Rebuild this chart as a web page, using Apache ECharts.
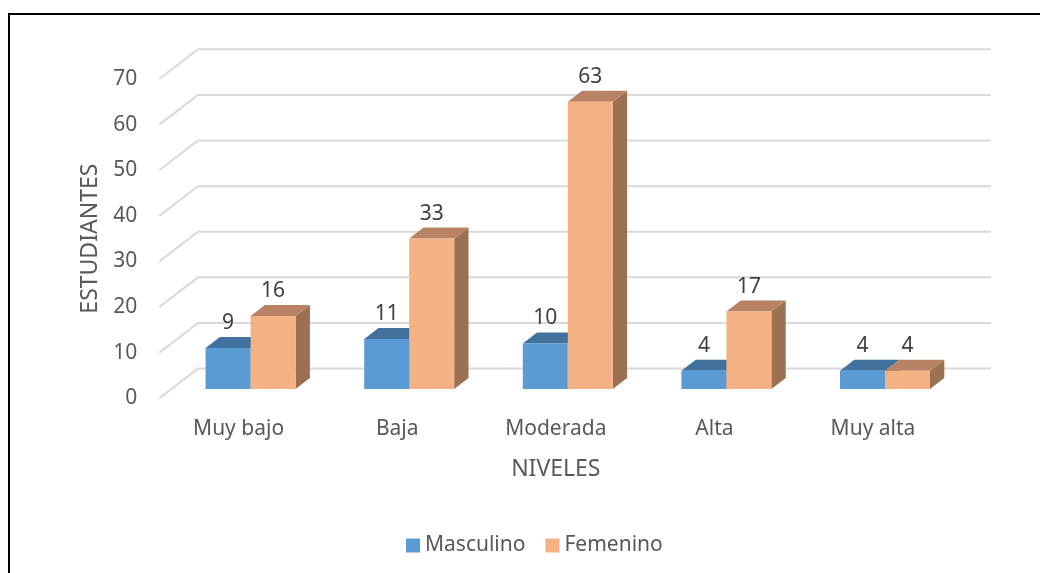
<!DOCTYPE html>
<html>
<head>
<meta charset="utf-8">
<script src="https://cdn.jsdelivr.net/npm/echarts@6/dist/echarts.min.js"></script>
<style>
html, body { margin: 0; padding: 0; background: #fff; }
#chart { width: 1040px; height: 573px; }
</style>
</head>
<body>
<div id="chart"></div>
<script>
var categories = ['Muy bajo', 'Baja', 'Moderada', 'Alta', 'Muy alta'];
var masculino = [9, 11, 10, 4, 4];
var femenino = [16, 33, 63, 17, 4];
var ticks = [0, 10, 20, 30, 40, 50, 60, 70];

// depth of the fake 3d box: front plane -> back wall
var WALL_DX = 38.7, WALL_DY = 29.7;
var BAR_F = 0.31;   // bar front face position (fraction of depth)
var BAR_D = 0.37;   // bar depth (fraction of depth)
var BAR_W = 45;
var FONT = '"Noto Sans", "Open Sans", sans-serif';

var chart = echarts.init(document.getElementById('chart'));

function gridRender(params, api) {
  var cs = params.coordSys;
  var y = api.coord([0, api.value(1)])[1];
  return {
    type: 'polyline',
    silent: true,
    shape: { points: [[cs.x, y], [cs.x + WALL_DX, y - WALL_DY], [cs.x + cs.width + WALL_DX, y - WALL_DY]] },
    style: { stroke: '#d9d9d9', lineWidth: 2, fill: null }
  };
}

function barRender(left, front, top, side) {
  return function (params, api) {
    var i = api.value(0), v = api.value(1);
    var base = api.coord([i, 0]);
    var tip = api.coord([i, v]);
    var ox = WALL_DX * BAR_F, oy = WALL_DY * BAR_F;
    var dx = WALL_DX * BAR_D, dy = WALL_DY * BAR_D;
    var x0 = base[0] + ox - (left ? BAR_W : 0);
    var x1 = x0 + BAR_W;
    var y0 = base[1] - oy, y1 = tip[1] - oy;
    return {
      type: 'group',
      children: [
        { type: 'polygon', shape: { points: [[x1, y1], [x1 + dx, y1 - dy], [x1 + dx, y0 - dy], [x1, y0]] }, style: { fill: side } },
        { type: 'polygon', shape: { points: [[x0, y1], [x1, y1], [x1 + dx, y1 - dy], [x0 + dx, y1 - dy]] }, style: { fill: top } },
        { type: 'rect', shape: { x: x0, y: y1, width: BAR_W, height: y0 - y1 }, style: { fill: front } },
        { type: 'text', style: { text: String(v), x: (x0 + x1) / 2, y: y1 - 25, align: 'center', verticalAlign: 'middle', font: '21px ' + FONT, fill: '#404040' } }
      ]
    };
  };
}

chart.setOption({
  animation: false,
  grid: { left: 159.3, right: 87.7, top: 79, bottom: 174.7 },
  graphic: [{
    type: 'polyline',
    shape: { points: [[9, 573], [9, 14], [1040, 14]] },
    style: { stroke: '#000', lineWidth: 2, fill: null }
  }],
  legend: {
    data: ['Masculino', 'Femenino'],
    icon: 'rect',
    itemWidth: 14,
    itemHeight: 14,
    itemGap: 20,
    left: 401,
    top: 530,
    textStyle: { fontSize: 21, color: '#595959', fontFamily: FONT }
  },
  xAxis: {
    type: 'category',
    data: categories,
    name: 'NIVELES',
    nameLocation: 'middle',
    nameGap: 60,
    nameTextStyle: { fontSize: 23, color: '#595959', fontFamily: FONT },
    axisLine: { show: false },
    axisTick: { show: false },
    axisLabel: { margin: 20, fontSize: 21, color: '#595959', fontFamily: FONT }
  },
  yAxis: {
    type: 'value',
    min: 0,
    max: 70,
    interval: 10,
    name: 'ESTUDIANTES',
    nameLocation: 'middle',
    nameRotate: 90,
    nameGap: 57,
    nameTextStyle: { fontSize: 23, color: '#595959', fontFamily: FONT },
    axisLine: { show: false },
    axisTick: { show: false },
    splitLine: { show: false },
    axisLabel: { margin: 22, fontSize: 21, color: '#595959', fontFamily: FONT }
  },
  series: [
    {
      type: 'custom',
      silent: true,
      renderItem: gridRender,
      data: ticks.map(function (t) { return [0, t]; }),
      z: 1
    },
    {
      name: 'Masculino',
      type: 'custom',
      itemStyle: { color: '#5b9bd5' },
      renderItem: barRender(true, '#5b9bd5', '#41729d', '#3a6690'),
      data: masculino.map(function (v, i) { return [i, v]; }),
      z: 2
    },
    {
      name: 'Femenino',
      type: 'custom',
      itemStyle: { color: '#f4b183' },
      renderItem: barRender(false, '#f4b183', '#b98264', '#9c7052'),
      data: femenino.map(function (v, i) { return [i, v]; }),
      z: 3
    }
  ]
});
</script>
</body>
</html>
